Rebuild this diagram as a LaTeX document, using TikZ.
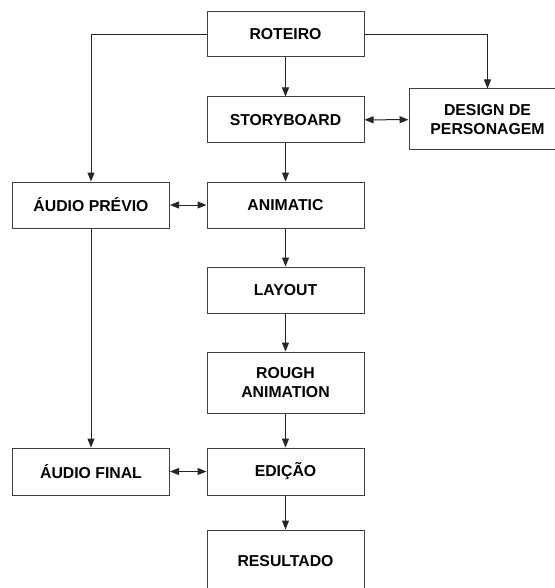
\documentclass[tikz,border=0pt]{standalone}
\usepackage{fontspec}
\setmainfont{Liberation Sans}
\usetikzlibrary{arrows.meta}
\begin{document}
\begin{tikzpicture}[x=1pt,y=-1pt,
  box/.style={draw=black!75,line width=1pt,fill=white,rectangle,minimum width=157pt,
    align=center,inner sep=0pt,font=\fontsize{15.8}{18.3}\selectfont\bfseries},
  conn/.style={draw=black!85,line width=1pt,-{Triangle[length=9pt,width=7pt]}},
  dconn/.style={draw=black!85,line width=1pt,{Triangle[length=9pt,width=7pt]}-{Triangle[length=9pt,width=7pt]}}]
\useasboundingbox (0,0) rectangle (554,588);
\fill[white] (0,0) rectangle (554,588);
\node[box,minimum height=45pt] (rot) at (285.5,34.5) {ROTEIRO};
\node[box,minimum height=46pt] (sto) at (285.5,120) {STORYBOARD};
\node[box,minimum height=61pt] (des) at (487.5,119.5) {DESIGN DE\\PERSONAGEM};
\node[box,minimum height=46pt] (apr) at (91,205) {ÁUDIO PRÉVIO};
\node[box,minimum height=46pt] (ani) at (285.5,205) {ANIMATIC};
\node[box,minimum height=46pt] (lay) at (285.5,290) {LAYOUT};
\node[box,minimum height=61pt] (rou) at (285.5,382.5) {ROUGH\\ANIMATION};
\node[box,minimum height=47pt] (afi) at (91,471.5) {ÁUDIO FINAL};
\node[box,minimum height=47pt] (edi) at (285.5,471.5) {EDIÇÃO};
\node[box,minimum height=62pt] (res) at (285.5,561) {RESULTADO};
\draw[conn] (rot) -- (sto);
\draw[conn] (rot.east) -| (des.north);
\draw[conn] (rot.west) -| (apr.north);
\draw[dconn] (sto) -- (des);
\draw[conn] (sto) -- (ani);
\draw[dconn] (apr) -- (ani);
\draw[conn] (ani) -- (lay);
\draw[conn] (lay) -- (rou);
\draw[conn] (rou) -- (edi);
\draw[conn] (apr) -- (afi);
\draw[dconn] (afi) -- (edi);
\draw[conn] (edi) -- (res);
\end{tikzpicture}
\end{document}
